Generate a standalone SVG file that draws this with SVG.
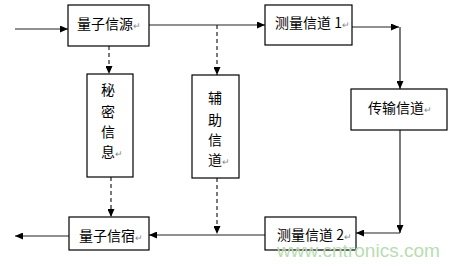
<svg xmlns="http://www.w3.org/2000/svg" width="460" height="266" viewBox="0 0 460 266">
<defs>
<marker id="ah" markerUnits="userSpaceOnUse" markerWidth="8" markerHeight="7" refX="8" refY="3.5" orient="auto">
<path d="M0,0 L8,3.5 L0,7 z" fill="#000"/>
</marker>
<style>
.box{fill:#fff;stroke:#000;stroke-width:1.2}
.t{font-family:"Noto Sans CJK SC","Liberation Sans",sans-serif;font-size:14px;fill:#000}
.r{fill:#888;font-size:9px}
.ln{fill:none;stroke:#222;stroke-width:1.2}
.dl{fill:none;stroke:#222;stroke-width:1.2;stroke-dasharray:4,3}
</style>
</defs>
<rect width="460" height="266" fill="#fff"/>
<g id="connectors">
<path class="ln" d="M15,29 H68" marker-end="url(#ah)"/>
<path class="ln" d="M149,25 H265" marker-end="url(#ah)"/>
<path class="ln" d="M352,27 H399" marker-end="url(#ah)"/>
<path class="ln" d="M400,27 V89" marker-end="url(#ah)"/>
<path class="ln" d="M400,130 V233" marker-end="url(#ah)"/>
<path class="ln" d="M400,233 H356" marker-end="url(#ah)"/>
<path class="ln" d="M265,235 H149" marker-end="url(#ah)"/>
<path class="ln" d="M69,236 H15" marker-end="url(#ah)"/>
<path class="dl" d="M109,46 V74" marker-end="url(#ah)"/>
<path class="dl" d="M111,177 V217" marker-end="url(#ah)"/>
<path class="dl" d="M217,25 V75" marker-end="url(#ah)"/>
<path class="dl" d="M217,178 V234" marker-end="url(#ah)"/>
</g>
<g id="source">
<rect class="box" x="68" y="5" width="81" height="41"/>
<text class="t" x="77" y="29">量子信源<tspan class="r">↵</tspan></text>
</g>
<g id="meas1">
<rect class="box" x="265" y="5" width="87" height="40"/>
<text class="t" x="275" y="28">测量信道 1<tspan class="r">↵</tspan></text>
</g>
<g id="trans">
<rect class="box" x="351" y="89" width="96" height="41"/>
<text class="t" x="368" y="113">传输信道<tspan class="r">↵</tspan></text>
</g>
<g id="secret">
<rect class="box" x="87" y="74" width="46" height="103"/>
<text class="t" x="101" y="95">秘</text>
<text class="t" x="101" y="117">密</text>
<text class="t" x="101" y="137">信</text>
<text class="t" x="101" y="157">息<tspan class="r">↵</tspan></text>
</g>
<g id="aux">
<rect class="box" x="192" y="75" width="47" height="103"/>
<text class="t" x="208" y="103">辅</text>
<text class="t" x="208" y="125">助</text>
<text class="t" x="208" y="145">信</text>
<text class="t" x="208" y="165">道<tspan class="r">↵</tspan></text>
</g>
<g id="meas2">
<rect class="box" x="265" y="217" width="91" height="33"/>
<text class="t" x="277" y="240">测量信道 2<tspan class="r">↵</tspan></text>
</g>
<g id="sink">
<rect class="box" x="69" y="217" width="80" height="33"/>
<text class="t" x="79" y="241">量子信宿<tspan class="r">↵</tspan></text>
</g>
<text x="277" y="257" font-family="Liberation Sans, sans-serif" font-size="19" fill="#b9dcb2" textLength="163" lengthAdjust="spacingAndGlyphs">www.cntronics.com</text>
</svg>
